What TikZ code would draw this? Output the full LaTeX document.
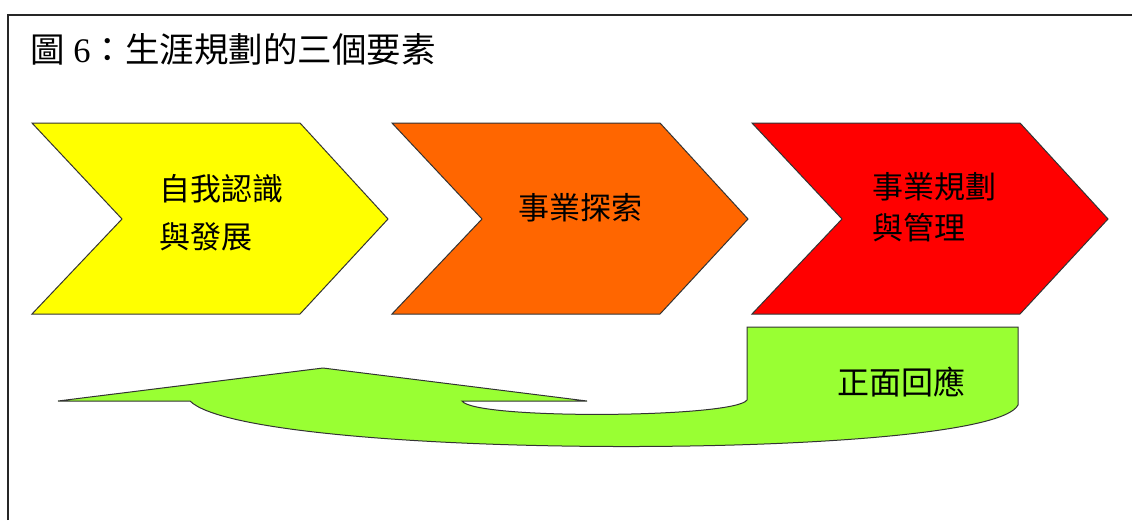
\documentclass[tikz,border=0pt]{standalone}
\usepackage{fontspec}
\setmainfont{Liberation Serif}
\newfontfamily\cjk{Noto Sans CJK TC}
\definecolor{phaseyellow}{HTML}{FFFF00}
\definecolor{phaseorange}{HTML}{FF6600}
\definecolor{phasered}{HTML}{FF0000}
\definecolor{loopgreen}{HTML}{99FF33}

\begin{document}
\begin{tikzpicture}[x=1pt, y=-1pt,
		chevron/.style={draw=black!80, line width=1pt, line join=miter},
		phasetext/.style={font=\cjk\fontsize{31}{48}\selectfont, align=left, inner sep=0pt}]
			\useasboundingbox (0,0) rectangle (1132,520);
			\fill[white] (0,0) rectangle (1132,520);
			\draw[black!85, line width=1.6pt] (8,520) -- (8,15) -- (1132,15);
			\node[anchor=west, inner sep=0pt, font=\fontsize{34.5}{38}\selectfont] (title) at (30,49) {{\cjk 圖} 6{\cjk ：生涯規劃的三個要素}};
			\foreach \x/\col in {32/phaseyellow, 392/phaseorange, 752/phasered}
				\filldraw[chevron, fill=\col] (\x,123) -- ++(268,0) -- ++(88,96) -- ++(-88,95) -- ++(-268,0) -- ++(90,-95) -- cycle;
			\node[phasetext] (selfknow) at (221,213) {自我認識\\與發展};
			\node[phasetext] (explore) at (580,208) {事業探索};
			\node[phasetext, font=\cjk\fontsize{31}{41}\selectfont] (plan) at (934,207) {事業規劃\\與管理};
			\filldraw[chevron, fill=loopgreen] (58,401) -- (323,368) -- (587,401) -- (462,401)
				.. controls (475,420) and (735,418) .. (747,400) -- (747,327) -- (1018,327) -- (1018,405)
				.. controls (990,461) and (250,461) .. (190,401) -- cycle;
			\node[phasetext, font=\cjk\fontsize{32}{36}\selectfont] (feedback) at (901,382) {正面回應};
		\end{tikzpicture}
\end{document}
